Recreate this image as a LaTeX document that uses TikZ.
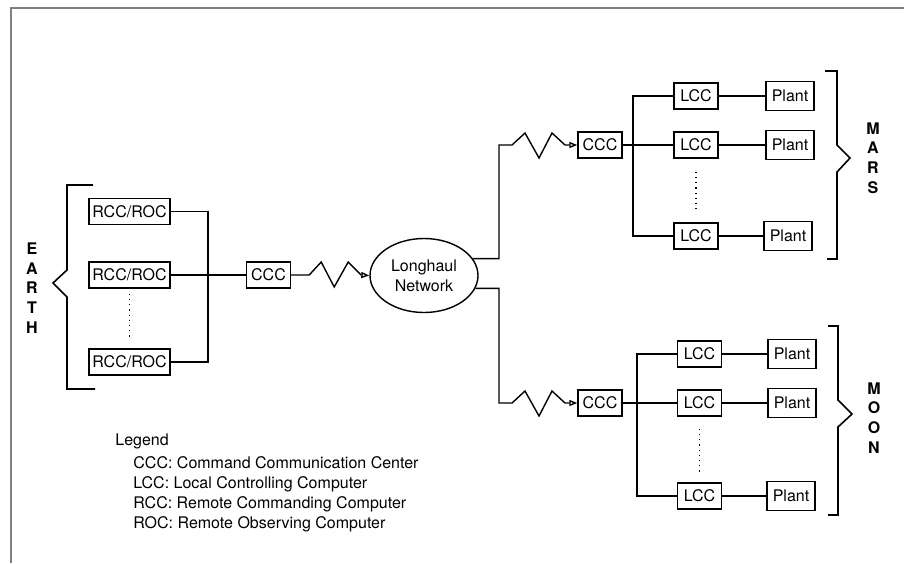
\documentclass[tikz,border=0pt]{standalone}
\usepackage{fontspec}
\setmainfont{TeX Gyre Heros}
\usetikzlibrary{shapes.geometric, arrows.meta}

\begin{document}
\begin{tikzpicture}[x=0.5pt, y=-0.5pt, font=\fontsize{8}{10}\selectfont]
  \tikzstyle{box} = [rectangle, draw, line width=0.7pt, inner sep=1pt, minimum height=13pt]
  \tikzstyle{rocbox} = [box, minimum width=40.5pt]
  \tikzstyle{cccbox} = [box, minimum width=22pt]
  \tikzstyle{lccbox} = [box, minimum width=22pt]
  \tikzstyle{plantbox} = [box, minimum width=24pt, minimum height=14.5pt]
  \tikzstyle{link} = [line width=0.7pt]
  \tikzstyle{arrow} = [link, -{Triangle[open, length=4pt, width=3pt]}]
  \tikzstyle{dots} = [dotted, line width=0.6pt]
  \tikzstyle{bracket} = [line width=0.8pt]
  \tikzstyle{planet} = [font=\fontsize{8}{9.9}\selectfont\bfseries, align=center, inner sep=0pt]

  \useasboundingbox (0,0) rectangle (904,563);
  \draw[gray, line width=0.6pt] (904,8) -- (11,8) -- (11,563);

  % earth
  \node[rocbox] (rccA) at (129.5,211.5) {RCC/ROC};
  \node[rocbox] (rccB) at (129.5,275) {RCC/ROC};
  \node[rocbox] (rccC) at (129.5,362) {RCC/ROC};
  \node[cccbox] (cccE) at (268.5,275) {CCC};
  \node[planet] (earth) at (32,288) {E\\A\\R\\T\\H};
  \coordinate (busE) at (208,0);

  \draw[link] (rccA.east) -| (busE |- rccC.east) -- (rccC.east);
  \draw[link] (rccB) -- (cccE);
  \draw[dots, xshift=-2pt, shorten <=2.5pt, shorten >=5pt] (rccB.south) -- (rccC.north);
  \draw[bracket] (93,185) -- (67,185) -- (67,270) -- (53,283) -- (67,297) -- (67,389) -- (95,389);

  % longhaul network
  \node[ellipse, draw, line width=0.7pt, minimum width=54pt, minimum height=37pt, inner sep=0pt, align=center] (net) at (424,275.5) {Longhaul\\Network};
  \coordinate (branch) at (499,0);

  \draw[arrow] (cccE.east) -- ++(18,0) -- ++(12,-13) -- ++(13,25) -- ++(14,-25) -- ++(13,13) -- (net.west);

  % mars
  \node[cccbox] (cccM) at (600,145) {CCC};
  \node[lccbox] (lccMa) at (696,96) {LCC};
  \node[lccbox] (lccMb) at (696,145) {LCC};
  \node[lccbox] (lccMc) at (696,236) {LCC};
  \node[plantbox] (pltMa) at (790,96) {Plant};
  \node[plantbox] (pltMb) at (790,145) {Plant};
  \node[plantbox] (pltMc) at (788,236) {Plant};
  \node[planet] (mars) at (873,158) {M\\A\\R\\S};
  \coordinate (busM) at (633,0);

  \draw[arrow] (net.19) -| (branch |- cccM) -- ++(13,0) -- ++(13,-12) -- ++(14,25) -- ++(13,-25) -- ++(13,12) -- (cccM.west);
  \draw[link] (cccM) -- (lccMb);
  \draw[link] (lccMa.west) -| (busM |- lccMc.west) -- (lccMc.west);
  \draw[link] (lccMa) -- (pltMa);
  \draw[link] (lccMb) -- (pltMb);
  \draw[link] (lccMc) -- (pltMc);
  \draw[dots, shorten <=6.5pt, shorten >=5pt] (lccMb.south) -- (lccMc.north);
  \draw[bracket] (825,71) -- (837,71) -- (837,145) -- (850,158) -- (837,172) -- (837,259) -- (827,259);

  % moon
  \node[cccbox] (cccL) at (600,403) {CCC};
  \node[lccbox] (lccLa) at (699.5,354) {LCC};
  \node[lccbox] (lccLb) at (699.5,403) {LCC};
  \node[lccbox] (lccLc) at (699.5,496) {LCC};
  \node[plantbox] (pltLa) at (792,354) {Plant};
  \node[plantbox] (pltLb) at (792,403) {Plant};
  \node[plantbox] (pltLc) at (791,496) {Plant};
  \node[planet] (moon) at (874,418) {M\\O\\O\\N};
  \coordinate (busL) at (637,0);

  \draw[arrow] (net.-14) -| (branch |- cccL) -- ++(13,0) -- ++(13,-12) -- ++(14,25) -- ++(13,-25) -- ++(13,12) -- (cccL.west);
  \draw[link] (cccL) -- (lccLb);
  \draw[link] (lccLa.west) -| (busL |- lccLc.west) -- (lccLc.west);
  \draw[link] (lccLa) -- (pltLa);
  \draw[link] (lccLb) -- (pltLb);
  \draw[link] (lccLc) -- (pltLc);
  \draw[dots, shorten <=6pt, shorten >=5pt] (lccLb.south) -- (lccLc.north);
  \draw[bracket] (828,326) -- (838,326) -- (838,400) -- (852,414) -- (838,427) -- (838,515) -- (828,515);

  % legend
  \node[align=left, anchor=north west, inner sep=0pt] (legend) at (115,433) {Legend\\[1.5pt]
    \hspace*{9pt}CCC: Command Communication Center\\
    \hspace*{9pt}LCC: Local Controlling Computer\\
    \hspace*{9pt}RCC: Remote Commanding Computer\\
    \hspace*{9pt}ROC: Remote Observing Computer};
\end{tikzpicture}
\end{document}
